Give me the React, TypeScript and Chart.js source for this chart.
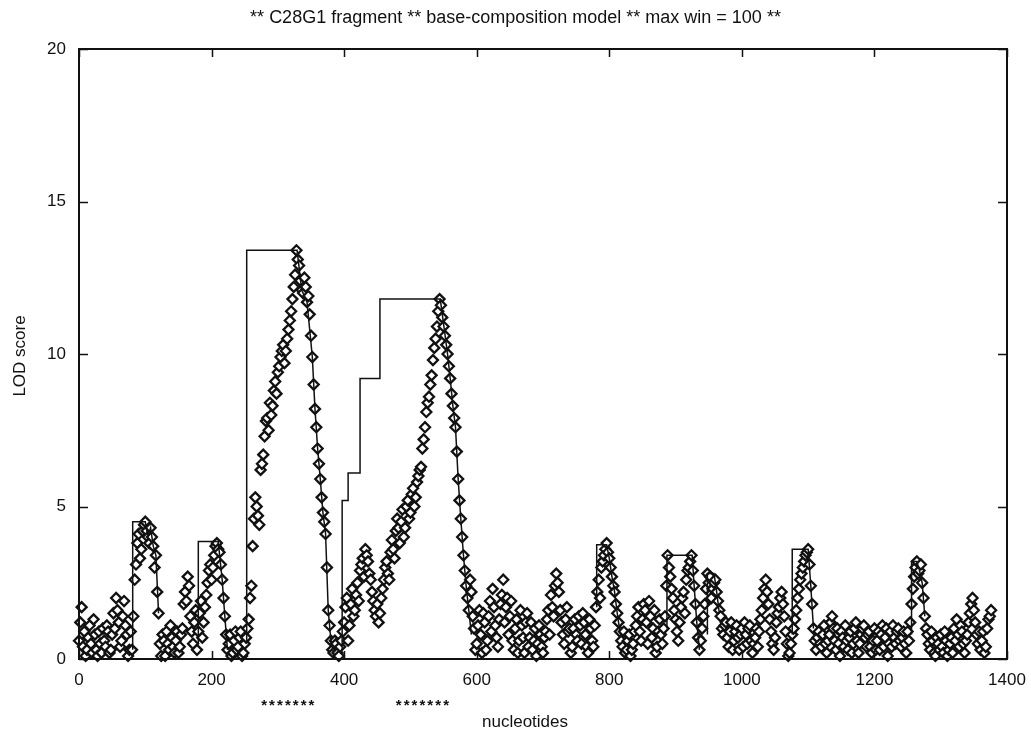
import React, { useEffect, useRef } from "react";
import { Chart, registerables } from "chart.js";

Chart.register(...registerables);

const TITLE = "** C28G1 fragment ** base-composition model ** max win = 100 **";
const X_TITLE = "nucleotides";
const Y_TITLE = "LOD score";
const X_TICKS = [0, 200, 400, 600, 800, 1000, 1200, 1400];
const Y_TICKS = [0, 5, 10, 15, 20];

// LOD score at positions 0, 4, 8, ... (nucleotides)
const LOD_A_START = 0;
const LOD_A = [
  0.6, 1.7, 0.9, 0.3, 1.1, 0.2, 0.8, 0.1, 0.5, 1.0,
  0.4, 0.9, 0.3, 1.5, 2.0, 1.2, 0.6, 1.9, 0.8, 0.3,
  0.3, 2.6, 3.8, 3.3, 4.2, 4.5, 4.0, 4.3, 3.7, 3.4,
  1.5, 0.1, 0.6, 0.9, 0.3, 0.7, 0.2, 0.9, 0.4, 1.0,
  2.2, 2.7, 1.4, 0.5, 1.6, 0.9, 1.9, 1.2, 2.1, 2.9,
  2.6, 3.4, 3.8, 3.5, 2.6, 1.4, 0.3, 0.8, 0.2, 0.9,
  0.4, 0.9, 0.2, 0.7, 1.3, 2.4, 4.6, 5.0, 4.4, 6.4,
  7.3, 7.9, 8.4, 8.3, 9.1, 9.4, 9.9, 10.3, 10.1, 10.8,
  11.4, 12.2, 13.4, 12.9, 12.1, 12.5, 11.7, 11.3, 9.9, 8.2,
  6.9, 5.9, 4.8, 4.1, 1.6, 0.6, 0.2, 0.5, 0.1, 0.6,
  1.2, 2.0, 1.1, 2.3, 1.6, 2.5, 2.9, 3.3, 3.6, 3.2,
  2.6, 1.9, 1.4, 1.2, 2.0, 2.6, 3.2, 2.6, 3.9, 3.3,
  4.6, 3.8, 4.9, 4.3, 5.2, 4.8, 5.6, 5.3, 6.0, 6.3,
  7.2, 8.1, 8.6, 9.3, 10.2, 10.9, 11.8, 11.2, 10.6, 10.0,
  9.2, 8.3, 7.6, 5.9, 4.6, 3.4, 2.4, 1.6, 2.2, 1.0,
  0.5, 1.6, 0.2, 1.2, 0.6, 1.9, 2.3, 1.1, 0.4, 1.8,
  2.6, 1.7, 0.8, 1.9, 0.3, 1.3, 0.6, 1.1, 0.2, 1.5,
  0.7, 0.3, 1.0, 0.5, 0.8, 0.2, 0.9, 1.6, 2.1, 1.4,
  2.8, 2.2, 1.2, 0.5, 1.7, 1.0, 0.4, 1.3, 0.6, 1.1,
  1.5, 0.8, 0.2, 1.0, 0.4, 1.7, 2.6, 3.0, 3.4, 3.8,
  3.3, 2.7, 2.2, 1.5, 0.9, 0.4, 0.2, 0.6, 0.1, 0.5,
  1.1, 1.7, 0.6, 1.8, 1.2, 1.9, 0.7, 1.6, 0.4, 1.3,
  0.5, 1.4, 3.4, 2.7, 2.0, 1.3, 0.6, 1.7, 2.2, 2.6,
  3.0, 3.4, 2.4, 1.2, 0.3, 1.0, 1.8, 2.8, 2.7, 2.3,
  2.6, 1.9, 1.4, 0.8, 1.2, 0.4, 1.2, 0.6, 1.1, 0.3,
  1.0, 1.2, 0.5, 1.1, 0.2, 0.7, 0.4, 1.3, 2.0, 2.6,
  1.8, 0.9, 0.3, 1.2, 1.7, 2.2, 1.4, 0.5, 0.2, 0.8,
  1.3, 2.0, 2.6, 3.0, 3.4, 3.6, 2.4, 1.0, 0.3, 0.9,
  0.4, 1.1, 0.2, 0.8, 1.4, 0.6, 1.0, 0.1, 0.7, 1.1,
  0.3, 0.9, 0.5, 1.2, 0.2, 0.8, 1.1, 0.4, 0.9, 0.2,
  1.0, 0.6, 0.3, 1.1, 0.7, 0.1, 0.9, 1.1, 0.5, 1.0,
  0.4, 0.9, 0.2, 0.6, 1.8, 2.7, 3.2, 2.9, 2.5, 1.4,
  0.8, 0.3, 0.6, 0.1, 0.5, 0.8, 0.2, 0.6, 0.3, 0.7,
  1.0, 1.3, 0.4, 0.9, 0.2, 0.8, 1.5, 2.0, 1.2, 0.5,
  0.3, 0.9, 0.4, 1.3, 1.6,
];

// LOD score at positions 2, 6, 10, ... (nucleotides)
const LOD_B_START = 2;
const LOD_B = [
  1.2, 0.4, 0.1, 0.7, 0.5, 1.3, 0.3, 0.9, 0.2, 0.6,
  1.1, 0.2, 0.8, 1.0, 1.6, 0.4, 1.4, 1.1, 0.1, 0.9,
  1.4, 3.1, 4.1, 3.6, 4.4, 4.2, 3.8, 4.0, 3.0, 2.2,
  0.5, 0.8, 0.1, 0.5, 1.1, 0.4, 0.6, 0.2, 0.8, 1.8,
  1.9, 2.4, 0.9, 1.2, 0.3, 1.5, 0.7, 1.7, 2.5, 3.1,
  3.0, 3.7, 3.6, 3.1, 2.0, 0.8, 0.5, 0.1, 0.6, 0.3,
  0.7, 0.1, 0.5, 1.0, 2.0, 3.7, 5.3, 4.7, 6.2, 6.7,
  7.8, 7.5, 8.0, 8.8, 8.7, 9.6, 10.1, 9.7, 10.5, 11.1,
  11.8, 12.6, 13.1, 12.4, 12.0, 12.2, 11.9, 10.6, 9.0, 7.6,
  6.4, 5.3, 4.5, 3.0, 1.1, 0.3, 0.6, 0.2, 0.4, 0.9,
  1.7, 0.6, 1.8, 1.4, 2.1, 1.9, 3.1, 2.7, 3.4, 2.8,
  2.2, 1.6, 1.8, 1.5, 2.3, 3.0, 2.8, 3.5, 3.6, 4.2,
  4.3, 4.5, 4.0, 5.0, 4.6, 5.4, 5.0, 5.8, 6.2, 6.9,
  7.6, 8.4, 9.0, 9.8, 10.5, 11.4, 11.6, 10.9, 10.3, 9.6,
  8.7, 7.9, 6.8, 5.2, 4.0, 2.9, 2.0, 2.6, 1.4, 0.3,
  1.1, 0.8, 1.5, 0.3, 1.4, 0.9, 1.7, 0.7, 1.3, 2.1,
  1.2, 2.0, 1.4, 0.6, 1.0, 0.2, 1.6, 0.7, 1.2, 0.4,
  1.2, 0.6, 0.1, 1.1, 0.4, 0.7, 1.3, 0.8, 1.7, 2.4,
  2.5, 1.6, 0.8, 1.3, 0.9, 0.2, 1.0, 0.8, 1.4, 0.5,
  1.2, 0.4, 1.3, 0.6, 1.1, 2.2, 2.0, 3.2, 3.6, 3.5,
  3.0, 2.4, 1.8, 1.2, 0.6, 0.9, 0.3, 0.8, 0.3, 0.9,
  1.4, 0.9, 1.3, 1.6, 0.5, 1.4, 1.0, 0.2, 0.9, 0.8,
  1.0, 2.4, 3.0, 2.3, 1.6, 0.9, 1.2, 2.0, 1.5, 2.9,
  3.2, 2.9, 1.8, 0.7, 0.6, 1.4, 2.3, 2.5, 2.0, 2.5,
  2.2, 1.6, 1.0, 1.1, 0.7, 0.9, 0.3, 0.9, 0.7, 0.8,
  0.4, 0.8, 1.0, 0.6, 0.5, 1.0, 0.9, 1.6, 2.3, 2.2,
  1.3, 0.5, 0.7, 1.5, 2.0, 1.8, 0.9, 0.1, 0.5, 1.0,
  1.6, 2.3, 2.8, 3.2, 3.5, 3.1, 1.8, 0.6, 0.7, 0.5,
  0.8, 0.5, 0.6, 1.2, 1.0, 0.3, 0.5, 0.9, 0.4, 0.6,
  0.7, 0.2, 1.0, 0.6, 0.5, 1.0, 0.7, 0.8, 0.4, 0.6,
  0.3, 0.9, 0.8, 0.4, 1.0, 0.5, 0.4, 0.7, 0.9, 0.6,
  0.7, 0.5, 0.9, 1.2, 2.3, 3.0, 2.8, 3.1, 2.0, 1.0,
  0.5, 0.9, 0.2, 0.7, 0.3, 0.4, 0.9, 0.1, 0.5, 0.2,
  0.6, 0.8, 1.1, 0.5, 0.6, 1.2, 1.8, 1.6, 0.8, 0.9,
  0.6, 0.2, 1.0, 1.4,
];
const LOD_STEP = 4;

// "max win" step line: positions and LOD (null separates segments)
const MAXWIN_POS = [
  81, 81, 100, 104, 108, 112, 116, 120, 120,
  180, 180, 210, 216, 220, 224, 224,
  253, 253, 329, 336, 344, 352, 356, 360, 364, 368, 372, 376, 380, 384, 384,
  397, 397, 406, 406, 424, 424, 454, 454, 545, 556, 560, 564, 568, 572, 576, 580, 584, 588, 592, 592,
  781, 781, 796, 800, 804, 808, 812, 816, 816,
  887, 887, 925, 928, 932, 936, 936,
  948, 948, 958, 962, 966, 966,
  1076, 1076, 1100, 1104, 1108, 1108,
  1256, 1256, 1264, 1268, 1272, 1276,
];
const MAXWIN_LOD = [
  0.3, 4.5, 4.5, 4.0, 4.3, 3.7, 3.4, 1.5, null,
  0.5, 3.85, 3.85, 2.6, 1.4, 0.3, null,
  0.5, 13.4, 13.4, 12.1, 11.7, 9.9, 8.2, 6.9, 5.9, 4.8, 4.1, 1.6, 0.6, 0.2, null,
  0.3, 5.2, 5.2, 6.1, 6.1, 9.2, 9.2, 11.8, 11.8, 10.0, 9.2, 8.3, 7.6, 5.9, 4.6, 3.4, 2.4, 1.6, 0.8, null,
  1.7, 3.75, 3.75, 3.3, 2.7, 2.2, 1.5, 0.9, null,
  1.0, 3.4, 3.4, 2.4, 1.2, 0.3, null,
  0.8, 2.8, 2.8, 2.2, 1.5, null,
  0.8, 3.6, 3.6, 2.4, 1.0, null,
  0.8, 3.2, 3.2, 2.9, 2.5, 1.4,
];

// centres (nucleotides) of the "*******" region markers under the axis
const MARKED_REGIONS = [315, 518];

const FONT = '"Liberation Sans", Arial, Helvetica, sans-serif';
const INK = "#111111";

const decorPlugin = {
  id: "decor",
  afterDatasetsDraw(chart: any) {
    const { ctx, chartArea, scales } = chart;
    const { left, right, top, bottom } = chartArea;
    const xs = scales.x;
    const ys = scales.y;
    ctx.save();
    ctx.strokeStyle = INK;
    ctx.lineWidth = 2;
    ctx.strokeRect(left, top, right - left, bottom - top);
    ctx.lineWidth = 1.5;
    ctx.beginPath();
    X_TICKS.forEach((v) => {
      const px = Math.round(xs.getPixelForValue(v)) + 0.5;
      ctx.moveTo(px, bottom);
      ctx.lineTo(px, bottom - 8);
      ctx.moveTo(px, top);
      ctx.lineTo(px, top + 8);
    });
    Y_TICKS.forEach((v) => {
      const py = Math.round(ys.getPixelForValue(v)) + 0.5;
      ctx.moveTo(left, py);
      ctx.lineTo(left + 9, py);
      ctx.moveTo(right, py);
      ctx.lineTo(right - 9, py);
    });
    ctx.stroke();

    ctx.fillStyle = INK;
    ctx.textAlign = "center";
    ctx.textBaseline = "middle";
    ctx.font = `18px ${FONT}`;
    ctx.fillText(TITLE, chart.width / 2, 18);
    ctx.font = `17px ${FONT}`;
    ctx.fillText(X_TITLE, 525, 722);

    ctx.save();
    ctx.translate(20, 356);
    ctx.rotate(-Math.PI / 2);
    ctx.fillText(Y_TITLE, 0, 0);
    ctx.restore();

    ctx.font = `bold 15px ${FONT}`;
    MARKED_REGIONS.forEach((c) => {
      const cx = xs.getPixelForValue(c);
      for (let k = -3; k <= 3; k++) {
        ctx.fillText("*", cx + k * 7.9, 706);
      }
    });
    ctx.restore();
  },
};

export default function App() {
  const ref = useRef<HTMLCanvasElement | null>(null);

  useEffect(() => {
    const canvas = ref.current;
    if (!canvas) return;
    const points = [
      ...LOD_A.map((v, i) => ({ x: LOD_A_START + i * LOD_STEP, y: v })),
      ...LOD_B.map((v, i) => ({ x: LOD_B_START + i * LOD_STEP, y: v })),
    ].sort((a, b) => a.x - b.x);
    const steps = MAXWIN_POS.map((p, i) => ({ x: p, y: MAXWIN_LOD[i] }));
    const tickFont = { family: FONT, size: 17 };
    const chart = new Chart(canvas, {
      type: "scatter",
      data: {
        datasets: [
          {
            type: "line",
            label: "max win",
            data: steps as any,
            borderColor: INK,
            borderWidth: 1.5,
            pointRadius: 0,
            fill: false,
            spanGaps: false,
            tension: 0,
            clip: false as any,
          },
          {
            type: "scatter",
            label: "LOD",
            data: points,
            pointStyle: "rectRot",
            pointRadius: 5,
            pointBorderWidth: 2.3,
            borderColor: INK,
            backgroundColor: "#ffffff",
            pointBackgroundColor: "#ffffff",
            pointBorderColor: INK,
            clip: false as any,
          },
        ],
      },
      options: {
        responsive: false,
        animation: false,
        events: [],
        layout: { padding: { top: 49, right: 24, left: 0, bottom: 0 } },
        plugins: {
          legend: { display: false },
          tooltip: { enabled: false },
          title: { display: false },
        },
        scales: {
          x: {
            type: "linear",
            min: 0,
            max: 1400,
            grid: { display: false, drawTicks: false },
            border: { display: false },
            ticks: {
              stepSize: 200,
              padding: 11,
              color: INK,
              font: tickFont,
              maxRotation: 0,
              callback: (v: any) => String(v),
            },
            afterFit(s: any) {
              s.height = 76;
              s.paddingLeft = 0;
              s.paddingRight = 0;
            },
          },
          y: {
            type: "linear",
            min: 0,
            max: 20,
            grid: { display: false, drawTicks: false },
            border: { display: false },
            ticks: {
              stepSize: 5,
              padding: 13,
              color: INK,
              font: tickFont,
              callback: (v: any) => String(v),
            },
            afterFit(s: any) {
              s.width = 79;
              s.paddingTop = 0;
              s.paddingBottom = 0;
            },
          },
        },
      },
      plugins: [decorPlugin],
    });
    return () => chart.destroy();
  }, []);

  return (
    <div style={{ position: "fixed", left: 0, top: 0, width: 1031, height: 735, background: "#fff" }}>
      <canvas ref={ref} width={1031} height={735} />
    </div>
  );
}
